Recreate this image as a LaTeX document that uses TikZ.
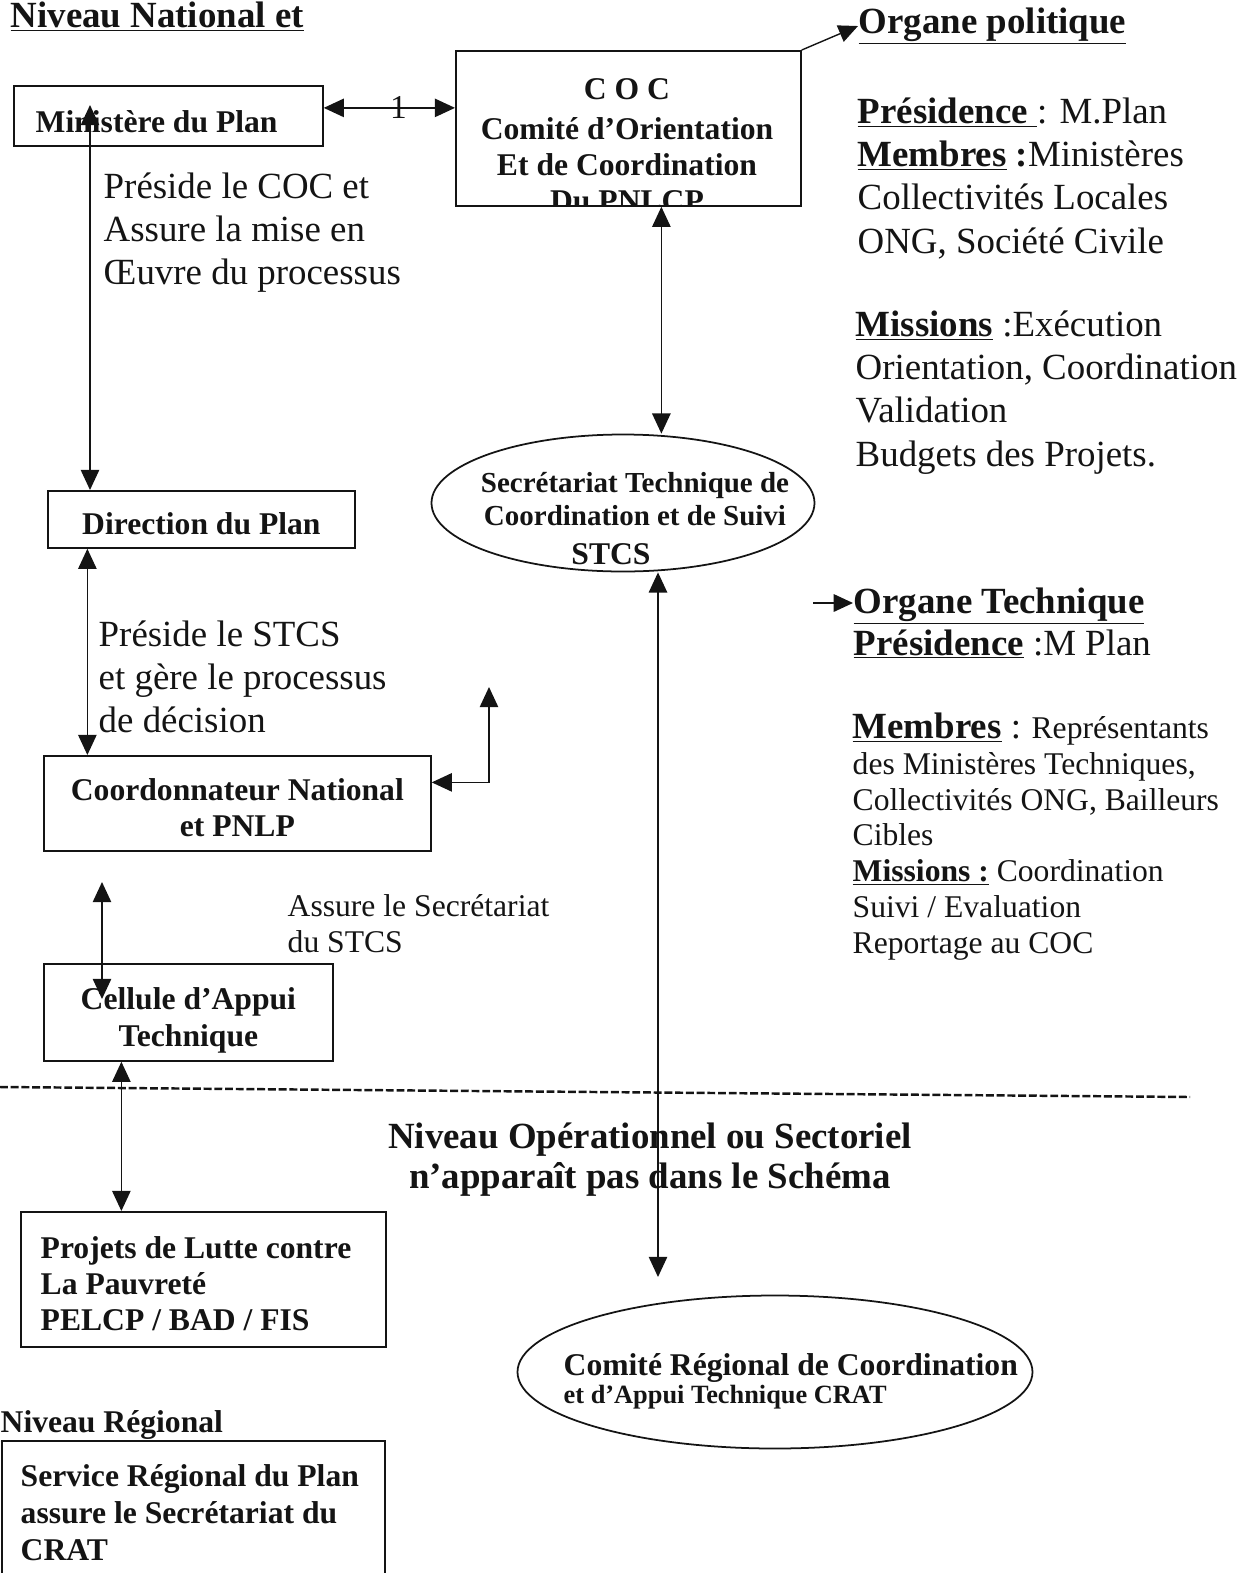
\documentclass[tikz,border=0pt]{standalone}
\usepackage{fontspec}
\setmainfont{Liberation Serif}
\usetikzlibrary{positioning,shapes.geometric,arrows.meta}
\newcommand\unitpx{0.02cm}

\begin{document}
\begin{tikzpicture}[x=0.02cm,y=-0.02cm,color=black!92,line width=0.8pt,
  box/.style={draw,line width=1pt,inner sep=0pt,anchor=north west},
  oval/.style={draw,ellipse,line width=1pt,inner sep=0pt},
  link/.style={{Triangle[length=11.5pt,width=10.5pt]}-{Triangle[length=11.5pt,width=10.5pt]}},
  onearrow/.style={-{Triangle[length=11pt,width=10pt]}},
  boxtext/.style={inner sep=0pt,align=center,font=\fontsize{18}{20.5}\selectfont\bfseries},
  bignote/.style={inner sep=0pt,anchor=north west,align=left,font=\fontsize{21}{24.6}\selectfont},
  smallnote/.style={inner sep=0pt,anchor=north west,align=left,font=\fontsize{18}{20.4}\selectfont},
  heading/.style={inner sep=0pt,anchor=base west,font=\fontsize{21}{24}\selectfont\bfseries}]

\useasboundingbox (0,0) rectangle (1258,1573);

% niveau national
\node[heading] (natl) at (10,27) {\underline{Niveau National et}};

\node[box,minimum width=309*\unitpx,minimum height=60*\unitpx] (min) at (13,85) {};
\node[boxtext,anchor=base west] (mintxt) at (35,132) {Ministère du Plan};

\node[box,minimum width=345*\unitpx,minimum height=155*\unitpx] (coc) at (455,50) {};
\begin{scope}
\clip (coc.south west) rectangle (coc.north east);
\node[boxtext,anchor=north] (coctxt) at (627,78) {C O C\\[2pt]Comité d’Orientation\\Et de Coordination\\Du PNLCP};
\end{scope}

\coordinate (minr) at ([yshift=8*\unitpx]min.east);
\draw[link] (minr) -- (minr -| coc.west) node[pos=0.57,inner sep=0pt,font=\fontsize{19}{20}\selectfont] (one) {1};

\node[box,minimum width=307*\unitpx,minimum height=57*\unitpx] (dir) at (47,490) {};
\node[boxtext,yshift=-4*\unitpx] (dirtxt) at (dir.center) {Direction du Plan};
\coordinate (minin) at (90,105);
\draw[link] (minin) -- (minin |- dir.north);

\node[bignote] (note1) at (103,172) {Préside le COC et\\Assure la mise en\\Œuvre du processus};

% organe politique
\node[heading] (orgp) at (858,33) {\underline{Organe politique}};
\draw[onearrow] (coc.north east) -- (orgp.west);

\node[bignote] (pol1) at (857,97) {\textbf{\underline{Présidence }}: M.Plan\\\textbf{\underline{Membres} :}Ministères\\Collectivités Locales\\ONG, Société Civile};
\node[bignote] (pol2) at (855,310) {\textbf{\underline{Missions}} :Exécution\\Orientation, Coordination\\Validation\\Budgets des Projets.};

% STCS
\node[oval,minimum width=383*\unitpx,minimum height=137*\unitpx] (stcs) at (623,503) {};
\node[boxtext,anchor=north,font=\fontsize{16.5}{18.6}\selectfont\bfseries] (stcstxt) at (635,472) {Secrétariat Technique de\\Coordination et de Suivi};
\node[boxtext,anchor=base] (stcsname) at (611,564) {STCS};

\coordinate (cocb) at ([xshift=33*\unitpx]coc.south);
\draw[link] (cocb) -- (cocb |- stcs.north);

% coordonnateur
\node[box,minimum width=387*\unitpx,minimum height=95*\unitpx] (coord) at (43,755) {};
\node[boxtext,yshift=-4*\unitpx] (coordtxt) at (coord.center) {Coordonnateur National\\et PNLP};
\coordinate (dirb) at ([xshift=-114*\unitpx]dir.south);
\draw[link] (dirb) -- (dirb |- coord.north);

\node[bignote] (note2) at (98,620) {Préside le STCS\\et gère le processus\\de décision};

\coordinate (coordup) at (489,687);
\coordinate (coordr) at ([yshift=21*\unitpx]coord.east);
\draw[link] (coordup) |- (coordr);

% cellule
\node[box,minimum width=289*\unitpx,minimum height=97*\unitpx] (cell) at (43,963) {};
\node[boxtext,yshift=-8*\unitpx] (celltxt) at (cell.center) {Cellule d’Appui\\Technique};
\coordinate (cellup) at (102,882);
\coordinate (cellin) at (102,999);
\draw[link] (cellup) -- (cellin);

\node[smallnote] (note3) at (287,894) {Assure le Secrétariat\\du STCS};

% organe technique
\node[heading] (orgt) at (853,613) {\underline{Organe Technique}};
\coordinate (orgtin) at (813,603);
\draw[onearrow] (orgtin) -- (orgtin -| orgt.west);
\node[bignote,anchor=base west] (orgtpres) at (853,655) {\textbf{\underline{Présidence}} :M Plan};

\node[smallnote] (tech1) at (852,712) {{\fontsize{21}{20.4}\selectfont\textbf{\underline{Membres}} :} Représentants\\des Ministères Techniques,\\Collectivités ONG, Bailleurs\\Cibles\\\textbf{\underline{Missions :}} Coordination\\Suivi / Evaluation\\Reportage au COC};

% niveau operationnel
\coordinate (dashl) at (0,1087);
\coordinate (dashr) at (1190,1097);
\draw[dash pattern=on 4.5pt off 1.6pt,line width=1.4pt] (dashl) -- (dashr);

\node[boxtext,anchor=north,font=\fontsize{21}{22.7}\selectfont\bfseries] (oper) at (650,1122) {Niveau Opérationnel ou Sectoriel\\n’apparaît pas dans le Schéma};

\node[box,minimum width=365*\unitpx,minimum height=135*\unitpx] (proj) at (20,1211) {};
\coordinate (cellb) at ([xshift=-67*\unitpx]cell.south);
\draw[link] (cellb) -- (cellb |- proj.north);
\node[boxtext,anchor=north west,align=left] (projtxt) at (40,1236) {Projets de Lutte contre\\La Pauvreté\\PELCP / BAD / FIS};

\coordinate (cratin) at (658,1277);
\draw[link] (stcs.south -| cratin) -- (cratin);

\node[oval,minimum width=515*\unitpx,minimum height=153*\unitpx] (crat) at (775,1372) {};
\node[boxtext,anchor=base west] (crattxt) at (563,1375) {Comité Régional de Coordination};
\node[boxtext,anchor=base west,font=\fontsize{15}{17}\selectfont\bfseries] (crattxt2) at (563,1403) {et d’Appui Technique CRAT};

% niveau regional
\node[boxtext,anchor=base west] (regl) at (0,1432) {\underline{Niveau Régional}};
\node[box,minimum width=383*\unitpx,minimum height=160*\unitpx] (serv) at (1,1440) {};
\node[boxtext,anchor=north west,align=left,font=\fontsize{18}{21}\selectfont\bfseries] (servtxt) at (20,1464) {Service Régional du Plan\\assure le Secrétariat du\\CRAT};
\end{tikzpicture}
\end{document}
